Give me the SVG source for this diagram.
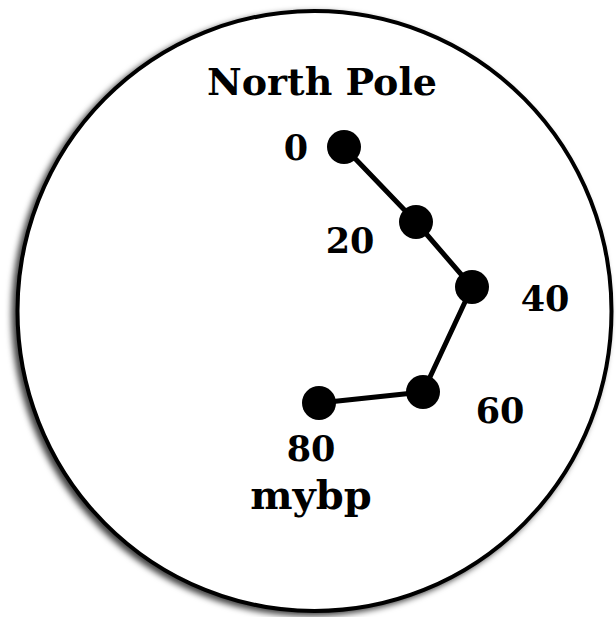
<svg xmlns="http://www.w3.org/2000/svg" width="616" height="617" viewBox="0 0 616 617">
  <defs>
    <filter id="shadow" x="-10%" y="-10%" width="120%" height="120%">
      <feDropShadow dx="-4" dy="3" stdDeviation="3" flood-color="#000" flood-opacity="0.75"/>
    </filter>
    <style>
      .lbl { font-family: "DejaVu Serif", "Liberation Serif", serif; font-weight: bold; fill: #000; text-anchor: middle; }
      .title { font-size: 38px; }
      .unit { font-size: 40px; }
      .num { font-size: 35px; }
      .dot { fill: #000; }
      .link { stroke: #000; stroke-width: 5; fill: none; stroke-linecap: round; stroke-linejoin: round; }
    </style>
  </defs>
  <rect width="616" height="617" fill="#fff"/>
  <g id="globe">
    <ellipse cx="314.5" cy="311" rx="297" ry="300" fill="#fff" stroke="#000" stroke-width="4" filter="url(#shadow)"/>
  </g>
  <g id="title">
    <text class="lbl title" x="322" y="95">North Pole</text>
  </g>
  <g id="connectors">
    <polyline class="link" points="344,147 416,222 472,287 423,392 319,403"/>
  </g>
  <g id="node-0">
    <circle class="dot" cx="344" cy="147" r="17"/>
    <text class="lbl num" x="296" y="160">0</text>
  </g>
  <g id="node-20">
    <circle class="dot" cx="416" cy="222" r="17"/>
    <text class="lbl num" x="350" y="253">20</text>
  </g>
  <g id="node-40">
    <circle class="dot" cx="472" cy="287" r="17"/>
    <text class="lbl num" x="545" y="311">40</text>
  </g>
  <g id="node-60">
    <circle class="dot" cx="423" cy="392" r="17"/>
    <text class="lbl num" x="500" y="423">60</text>
  </g>
  <g id="node-80">
    <circle class="dot" cx="319" cy="403" r="17"/>
    <text class="lbl num" x="311" y="461">80</text>
    <text class="lbl unit" x="311" y="509">mybp</text>
  </g>
</svg>
